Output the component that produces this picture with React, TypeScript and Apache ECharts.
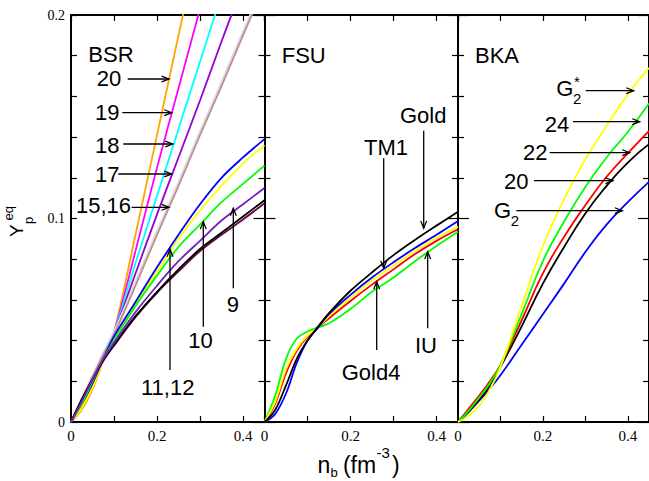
import React, { useEffect, useRef } from "react";
import * as echarts from "echarts";

// ---------- data ----------
const bsrX = [0, 0.025, 0.05, 0.075, 0.1, 0.15, 0.2, 0.25, 0.3, 0.35, 0.4, 0.45];
const bsr20 = [0, 0.006, 0.016, 0.03, 0.044, 0.092, 0.141, 0.19, 0.238, null, null, null];
const bsr19 = [0, 0.008, 0.018, 0.031, 0.044, 0.084, 0.125, 0.164, 0.203, null, null, null];
const bsr18 = [0, 0.009, 0.02, 0.032, 0.044, 0.078, 0.111, 0.144, 0.177, 0.21, null, null];
const bsr17 = [0, 0.01, 0.021, 0.033, 0.044, 0.073, 0.102, 0.13, 0.158, 0.187, 0.215, null];
const bsr16 = [0, 0.012, 0.023, 0.034, 0.0445, 0.069, 0.094, 0.118, 0.143, 0.167, 0.192, 0.216];
const bsr15 = [0, 0.011, 0.022, 0.033, 0.043, 0.067, 0.092, 0.116, 0.141, 0.165, 0.19, 0.214];
const bsr11 = [0, 0.009, 0.019, 0.031, 0.042, 0.059, 0.076, 0.092, 0.107, 0.12, 0.13, 0.139];
const bsr12 = [0, 0.007, 0.017, 0.03, 0.041, 0.058, 0.074, 0.09, 0.104, 0.116, 0.127, 0.136];
const bsr10 = [0, 0.009, 0.02, 0.031, 0.04, 0.057, 0.072, 0.086, 0.097, 0.108, 0.117, 0.126];
const bsr9 = [0, 0.01, 0.021, 0.031, 0.039, 0.054, 0.067, 0.079, 0.089, 0.099, 0.107, 0.115];
const bsrBlack = [0, 0.011, 0.021, 0.0305, 0.038, 0.052, 0.064, 0.075, 0.085, 0.093, 0.101, 0.109];
const bsrMaroon = [0, 0.011, 0.021, 0.03, 0.0375, 0.0515, 0.0635, 0.074, 0.084, 0.092, 0.0995, 0.1075];

const fsuX = [0, 0.025, 0.05, 0.075, 0.1, 0.125, 0.15, 0.2, 0.25, 0.3, 0.35, 0.4, 0.45];
const fsuGold = [0, 0.006, 0.018, 0.031, 0.04, 0.047, 0.0535, 0.0645, 0.0735, 0.082, 0.0895, 0.0965, 0.1033];
const fsuTM1 = [0, 0.004, 0.014, 0.029, 0.04, 0.0465, 0.053, 0.0625, 0.071, 0.0785, 0.0855, 0.092, 0.0988];
const fsuYellow = [0, 0.01, 0.026, 0.036, 0.0425, 0.0465, 0.052, 0.061, 0.0695, 0.077, 0.084, 0.0905, 0.096];
const fsuGold4 = [0, 0.009, 0.024, 0.035, 0.042, 0.0465, 0.051, 0.0595, 0.0675, 0.075, 0.0825, 0.089, 0.0947];
const fsuIU = [0, 0.013, 0.031, 0.041, 0.0445, 0.0465, 0.0485, 0.0555, 0.064, 0.071, 0.079, 0.0865, 0.0935];

const bkaX = [0, 0.025, 0.05, 0.075, 0.1, 0.15, 0.2, 0.25, 0.3, 0.35, 0.4, 0.45];
const bkaG2star = [0, 0.003, 0.008, 0.016, 0.027, 0.057, 0.0865, 0.1095, 0.129, 0.1455, 0.161, 0.174];
const bka24 = [0, 0.0055, 0.012, 0.019, 0.028, 0.053, 0.079, 0.0985, 0.1155, 0.13, 0.1425, 0.1565];
const bka22 = [0, 0.0065, 0.013, 0.02, 0.028, 0.05, 0.073, 0.091, 0.1065, 0.1205, 0.132, 0.143];
const bka20 = [0, 0.005, 0.011, 0.018, 0.027, 0.047, 0.068, 0.086, 0.1025, 0.116, 0.1275, 0.1365];
const bkaG2 = [0, 0.005, 0.0105, 0.0165, 0.023, 0.038, 0.053, 0.068, 0.0835, 0.097, 0.108, 0.118];

const xTickLabels = ["0", "0.2", "0.4"];
const yTickLabels = ["0", "0.1", "0.2"];
const panelTitles = ["BSR", "FSU", "BKA"];

// ---------- helpers ----------
const SANS = '"Liberation Sans", Arial, Helvetica, sans-serif';
const SERIF = '"Liberation Serif", "Times New Roman", serif';

function pairs(xs: number[], ys: (number | null)[]) {
  const out: number[][] = [];
  xs.forEach((x, i) => {
    const y = ys[i];
    if (y !== null && y !== undefined) out.push([x, y]);
  });
  return out;
}

function arrow(x1: number, y1: number, x2: number, y2: number) {
  const ang = Math.atan2(y2 - y1, x2 - x1);
  const L = 8;
  const a = 0.38;
  const p1 = [x2 - L * Math.cos(ang - a), y2 - L * Math.sin(ang - a)];
  const p2 = [x2 - L * Math.cos(ang + a), y2 - L * Math.sin(ang + a)];
  return [
    { type: "line", silent: true, z: 100, shape: { x1, y1, x2, y2 }, style: { stroke: "#000", lineWidth: 1.3 } },
    { type: "polyline", silent: true, z: 100, shape: { points: [p1, [x2, y2], p2] }, style: { stroke: "#000", fill: null, lineWidth: 1.3 } },
  ];
}

function txt(text: string, x: number, baseline: number, size = 22, family = SANS) {
  return {
    type: "text",
    silent: true,
    z: 100,
    style: {
      text,
      x,
      y: baseline - 0.35 * size,
      fontSize: size,
      fontFamily: family,
      fill: "#000",
      textAlign: "left",
      textVerticalAlign: "middle",
      align: "left",
      verticalAlign: "middle",
    },
  };
}

function xFmt(v: number) {
  const k = Math.round(v * 5);
  if (Math.abs(v * 5 - k) > 1e-6) return "";
  return xTickLabels[k] ?? "";
}
function yFmt(v: number) {
  const k = Math.round(v * 10);
  if (Math.abs(v * 10 - k) > 1e-6) return "";
  return yTickLabels[k] ?? "";
}

export default function App() {
  const ref = useRef<HTMLDivElement>(null);

  useEffect(() => {
    if (!ref.current) return;
    const chart = echarts.init(ref.current, undefined, { renderer: "svg" });

    const lefts = [71, 264.5, 458];
    const grid = lefts.map((left) => ({ left, top: 15, width: 193.5, height: 407 }));

    const axisLine = { show: true, onZero: false, lineStyle: { color: "#000", width: 2 } };
    const tickStyle = { color: "#000", width: 1.2 };

    const xAxis: any[] = [];
    const yAxis: any[] = [];
    [0, 1, 2].forEach((i) => {
      xAxis.push({
        type: "value", gridIndex: i, min: 0, max: 0.45, interval: 0.1, position: "bottom",
        axisLine, splitLine: { show: false },
        axisTick: { show: true, inside: true, length: 6, lineStyle: tickStyle },
        axisLabel: { show: true, formatter: xFmt, color: "#000", fontFamily: SERIF, fontSize: 15, margin: 6, showMaxLabel: false },
      });
    });
    [0, 1, 2].forEach((i) => {
      xAxis.push({
        type: "value", gridIndex: i, min: 0, max: 0.45, interval: 0.1, position: "top",
        axisLine, splitLine: { show: false },
        axisTick: { show: true, inside: true, length: 6, lineStyle: tickStyle },
        axisLabel: { show: false },
      });
    });
    [0, 1, 2].forEach((i) => {
      yAxis.push({
        type: "value", gridIndex: i, min: 0, max: 0.2, interval: 0.1, position: "left",
        axisLine, splitLine: { show: false },
        axisTick: { show: true, inside: true, length: i === 0 ? 6 : 11, lineStyle: tickStyle },
        minorTick: { show: true, splitNumber: 5, length: 6, lineStyle: tickStyle },
        minorSplitLine: { show: false },
        axisLabel: { show: i === 0, formatter: yFmt, color: "#000", fontFamily: SERIF, fontSize: 14, margin: 6 },
      });
    });
    [0, 1, 2].forEach((i) => {
      yAxis.push({
        type: "value", gridIndex: i, min: 0, max: 0.2, interval: 0.1, position: "right",
        axisLine, splitLine: { show: false },
        axisTick: { show: true, inside: true, length: 11, lineStyle: tickStyle },
        minorTick: { show: true, splitNumber: 5, length: 6, lineStyle: tickStyle },
        minorSplitLine: { show: false },
        axisLabel: { show: false },
      });
    });

    const panels = [
      {
        xs: bsrX,
        smooth: 0.35,
        lines: [
          { name: "20", color: "#FFA500", y: bsr20 },
          { name: "19", color: "#FF00FF", y: bsr19 },
          { name: "18", color: "#00FFFF", y: bsr18 },
          { name: "17", color: "#9400D3", y: bsr17 },
          { name: "16", color: "#DCDCDC", y: bsr16 },
          { name: "15", color: "#BC8F8F", y: bsr15 },
          { name: "12", color: "#FFFF00", y: bsr12 },
          { name: "11", color: "#0000FF", y: bsr11 },
          { name: "10", color: "#00FF00", y: bsr10 },
          { name: "maroon", color: "#670748", y: bsrMaroon },
          { name: "black", color: "#000000", y: bsrBlack },
          { name: "9", color: "#7221BC", y: bsr9 },
        ],
      },
      {
        xs: fsuX,
        smooth: 0.35,
        lines: [
          { name: "IU", color: "#00FF00", y: fsuIU },
          { name: "Gold4", color: "#FF0000", y: fsuGold4 },
          { name: "yellow", color: "#FFFF00", y: fsuYellow },
          { name: "TM1", color: "#0000FF", y: fsuTM1 },
          { name: "Gold", color: "#000000", y: fsuGold },
        ],
      },
      {
        xs: bkaX,
        smooth: 0.5,
        lines: [
          { name: "G2", color: "#0000FF", y: bkaG2 },
          { name: "20", color: "#000000", y: bka20 },
          { name: "22", color: "#FF0000", y: bka22 },
          { name: "24", color: "#00FF00", y: bka24 },
          { name: "G2*", color: "#FFFF00", y: bkaG2star },
        ],
      },
    ];

    const series: any[] = [];
    panels.forEach((p, gi) => {
      p.lines.forEach((l) => {
        series.push({
          type: "line",
          name: l.name,
          xAxisIndex: gi,
          yAxisIndex: gi,
          data: pairs(p.xs, l.y),
          showSymbol: false,
          symbol: "none",
          smooth: p.smooth,
          clip: true,
          lineStyle: { color: l.color, width: 1.8 },
          itemStyle: { color: l.color },
          silent: true,
        });
      });
    });

    const graphic: any[] = [
      // panel titles
      txt(panelTitles[0], 88.3, 61.7),
      txt(panelTitles[1], 281.7, 63.3),
      txt(panelTitles[2], 475, 63.3),
      // BSR annotations
      txt("20", 96.7, 85.7), ...arrow(127.7, 79, 169, 79),
      txt("19", 95, 120), ...arrow(122.3, 112.7, 171.7, 112.7),
      txt("18", 95, 152.7), ...arrow(123.3, 144, 172.7, 144),
      txt("17", 95, 181.7), ...arrow(118.3, 174, 171.7, 174),
      txt("15,16", 76, 213.3), ...arrow(131.7, 207.3, 169, 207.3),
      txt("11,12", 141, 395), ...arrow(170, 370, 170, 249.3),
      txt("10", 188.3, 347.7), ...arrow(203.3, 326.7, 203.3, 221.7),
      txt("9", 226.7, 312.3), ...arrow(233.3, 288.3, 233.3, 208.3),
      // FSU annotations
      txt("Gold", 400, 123.3), ...arrow(423.7, 130.7, 423.7, 228.3),
      txt("TM1", 364, 155), ...arrow(383.7, 158.3, 383.7, 268.3),
      txt("Gold4", 341.7, 380), ...arrow(376.7, 350, 376.7, 281.7),
      txt("IU", 415, 353.3), ...arrow(427.7, 328.3, 427.7, 251.7),
      // BKA annotations
      txt("G", 556.3, 96), txt("2", 573, 104, 15), txt("*", 574, 87, 15),
      ...arrow(585.7, 90.7, 633.7, 90.7),
      txt("24", 544.7, 131.7), ...arrow(573, 121.7, 639.7, 121.7),
      txt("22", 523, 160), ...arrow(549.7, 152.7, 629.7, 152.7),
      txt("20", 504, 189.3), ...arrow(534, 180.7, 613, 180.7),
      txt("G", 494, 217.7), txt("2", 510.7, 225.7, 15),
      ...arrow(516.3, 210.7, 622.3, 210.7),
      // x-axis title
      txt("n", 317.5, 473.3, 23),
      txt("b", 330.5, 477.5, 13),
      txt("(", 343, 473.3, 23),
      txt("fm", 350.5, 473.3, 23),
      txt("-3", 376.5, 458, 15),
      txt(")", 392, 473.3, 23),
      // y-axis title (rotated)
      {
        type: "group",
        x: 23,
        y: 237,
        rotation: Math.PI / 2,
        silent: true,
        z: 100,
        children: [
          txt("Y", 0, 0, 19),
          txt("p", 13, 10.5, 13),
          txt("eq", 16.5, -9.7, 13),
        ],
      },
    ];

    chart.setOption({
      animation: false,
      backgroundColor: "#fff",
      grid,
      xAxis,
      yAxis,
      series,
      graphic,
    });

    return () => chart.dispose();
  }, []);

  return (
    <div
      ref={ref}
      style={{ position: "fixed", left: 0, top: 0, width: 649, height: 481, background: "#fff" }}
    />
  );
}
